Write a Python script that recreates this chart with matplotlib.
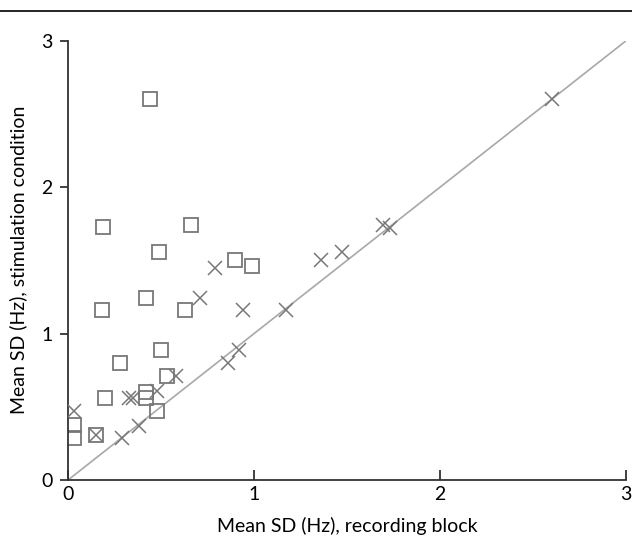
"""
Mean SD in recording block vs. stimulation condition, with identity line.
"""

import matplotlib.pyplot as plt
from matplotlib.lines import Line2D

# squares
sq_x = [0.44, 0.66, 0.19, 0.49, 0.90, 0.99, 0.42, 0.18, 0.63, 0.50,
        0.28, 0.53, 0.20, 0.42, 0.42, 0.48, 0.03, 0.03, 0.15]
sq_y = [2.60, 1.74, 1.73, 1.56, 1.50, 1.46, 1.24, 1.16, 1.16, 0.89,
        0.80, 0.71, 0.56, 0.60, 0.56, 0.47, 0.375, 0.29, 0.31]
# crosses
cr_x = [2.60, 1.69, 1.73, 1.47, 1.36, 0.79, 0.71, 0.94, 1.17, 0.92,
        0.86, 0.58, 0.33, 0.35, 0.48, 0.03, 0.15, 0.38, 0.29]
cr_y = [2.60, 1.74, 1.72, 1.56, 1.50, 1.45, 1.24, 1.16, 1.16, 0.89,
        0.80, 0.71, 0.56, 0.56, 0.61, 0.47, 0.31, 0.37, 0.29]

ticks = [0, 1, 2, 3]

plt.rcParams["font.family"] = ["Lato", "DejaVu Sans"]

fig = plt.figure(figsize=(6.32, 5.48), dpi=100)
ax = fig.add_axes([0.1076, 0.124, 0.8834, 0.802])

ax.plot([0, 3], [0, 3], color="#a8a8a8", lw=1.2, zorder=1)
ax.plot(sq_x, sq_y, "s", ms=10.5, mfc="none", mec="#777777", mew=1.3, ls="none", zorder=2)
ax.plot(cr_x, cr_y, "x", ms=10, mec="#777777", mew=1.1, ls="none", zorder=3)

ax.set_xlim(0, 3)
ax.set_ylim(0, 3)
ax.set_xticks(ticks)
ax.set_yticks(ticks)
ax.tick_params(axis="x", direction="in", length=7, width=1.3, colors="#333333",
               labelcolor="black", labelsize=14, pad=4)
ax.tick_params(axis="y", direction="out", length=6, width=1.3, colors="#333333",
               labelcolor="black", labelsize=14, pad=5)
ax.set_xlabel("Mean SD (Hz), recording block", fontsize=14, labelpad=10)
ax.set_ylabel("Mean SD (Hz), stimulation condition", fontsize=14, labelpad=10)

for s in ["top", "right"]:
    ax.spines[s].set_visible(False)
for s in ["left", "bottom"]:
    ax.spines[s].set_linewidth(1.3)
    ax.spines[s].set_color("#333333")

# rule across the top of the figure
fig.add_artist(Line2D([0, 1], [0.98, 0.98], transform=fig.transFigure,
                      color="black", lw=1.2))

fig.savefig("out.png", dpi=100)
